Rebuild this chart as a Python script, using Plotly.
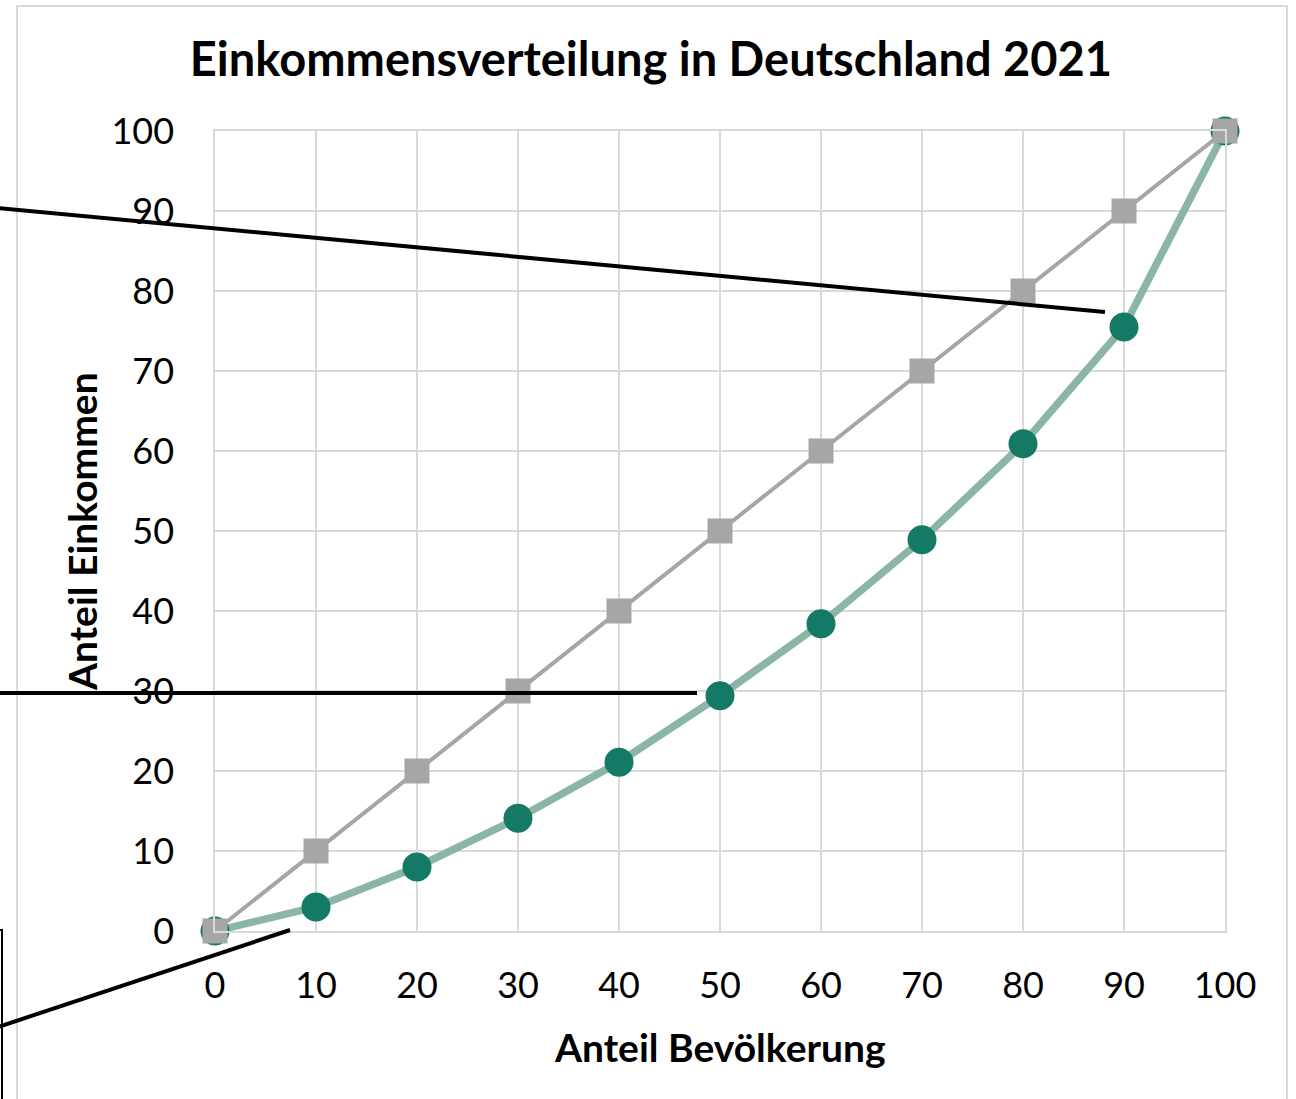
import plotly.graph_objects as go

# Data
bevoelkerung = [0, 10, 20, 30, 40, 50, 60, 70, 80, 90, 100]
gleichverteilung = [0, 10, 20, 30, 40, 50, 60, 70, 80, 90, 100]
lorenz = [0, 3.0, 8.0, 14.1, 21.1, 29.4, 38.4, 48.9, 60.9, 75.5, 100]
tick_vals = [0, 10, 20, 30, 40, 50, 60, 70, 80, 90, 100]

W, H = 1296, 1099
L, R, T, B = 215, 1225, 131, 931


def px(x):
    return (x - L) / (R - L)


def py(y):
    return (B - y) / (B - T)


FONT = "Lato"

fig = go.Figure()
fig.add_trace(go.Scatter(
    x=bevoelkerung, y=lorenz, mode="lines+markers",
    line=dict(color="#8ab5a8", width=7.5),
    marker=dict(color="#147a66", size=29, symbol="circle"),
    cliponaxis=False, showlegend=False, name="Lorenzkurve"))
fig.add_trace(go.Scatter(
    x=bevoelkerung, y=gleichverteilung, mode="lines+markers",
    line=dict(color="#a6a6a6", width=4),
    marker=dict(color="#a6a6a6", size=25, symbol="square"),
    cliponaxis=False, showlegend=False, name="Gleichverteilung"))

shapes = [
    # outer frame
    dict(type="rect", xref="paper", yref="paper",
         x0=px(17), x1=px(1287), y0=py(1130), y1=py(6),
         line=dict(color="#d9d9d9", width=2), layer="below"),
    # callout lines
    dict(type="line", xref="paper", yref="paper",
         x0=px(-2), y0=py(208), x1=px(1105), y1=py(312),
         line=dict(color="black", width=4)),
    dict(type="line", xref="paper", yref="paper",
         x0=px(-2), y0=py(693), x1=px(697), y1=py(693),
         line=dict(color="black", width=4)),
    dict(type="line", xref="paper", yref="paper",
         x0=px(-2), y0=py(1027), x1=px(290), y1=py(930),
         line=dict(color="black", width=4)),
    # partial box at bottom-left
    dict(type="rect", xref="paper", yref="paper",
         x0=px(-20), x1=px(2), y0=py(1130), y1=py(930),
         line=dict(color="black", width=2)),
]

annotations = [
    dict(text="<b>Anteil Bevölkerung</b>", xref="paper", yref="paper",
         x=px(720), y=py(1047), xanchor="center", yanchor="middle",
         showarrow=False, font=dict(family=FONT, size=39, color="black")),
    dict(text="<b>Anteil Einkommen</b>", xref="paper", yref="paper",
         x=px(82), y=py(532), xanchor="center", yanchor="middle",
         textangle=-90, showarrow=False,
         font=dict(family=FONT, size=39, color="black")),
]

fig.update_layout(
    width=W, height=H,
    margin=dict(l=L, r=W - R, t=T, b=H - B),
    paper_bgcolor="white", plot_bgcolor="white",
    title=dict(text="<b>Einkommensverteilung in Deutschland 2021</b>",
               x=px(651), xref="paper", xanchor="center",
               y=1 - 60 / H, yref="container", yanchor="middle",
               font=dict(family=FONT, size=47, color="black")),
    shapes=shapes, annotations=annotations,
    xaxis=dict(range=[0, 100], tickvals=tick_vals, showgrid=True,
               gridcolor="#d9d9d9", gridwidth=1.5, zeroline=False,
               showline=True, mirror=True, linecolor="#d9d9d9", linewidth=1.5,
               ticks="", ticklabelstandoff=22,
               tickfont=dict(family=FONT, size=36, color="black")),
    yaxis=dict(range=[0, 100], tickvals=tick_vals, showgrid=True,
               gridcolor="#d9d9d9", gridwidth=1.5, zeroline=False,
               showline=True, mirror=True, linecolor="#d9d9d9", linewidth=1.5,
               ticks="", ticklabelstandoff=32,
               tickfont=dict(family=FONT, size=36, color="black")),
)

fig.write_html("out.html",
               config={"displayModeBar": False},
               post_script="document.body.style.margin='0';")
